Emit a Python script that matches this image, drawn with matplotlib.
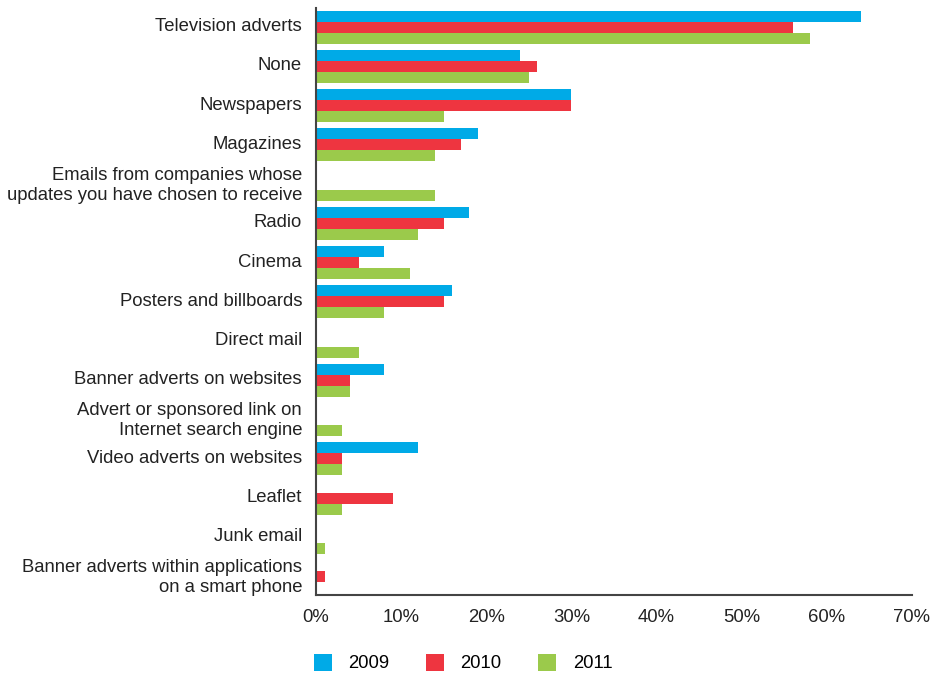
import numpy as np
import matplotlib.pyplot as plt
import matplotlib.transforms as mtransforms
from matplotlib.patches import Patch

plt.rcParams['font.family'] = ['Liberation Sans', 'DejaVu Sans']

categories = ["Television adverts", "None", "Newspapers", "Magazines",
              "Emails from companies whose\nupdates you have chosen to receive",
              "Radio", "Cinema", "Posters and billboards", "Direct mail",
              "Banner adverts on websites",
              "Advert or sponsored link on\nInternet search engine",
              "Video adverts on websites", "Leaflet", "Junk email",
              "Banner adverts within applications\non a smart phone"]
years = ["2009", "2010", "2011"]
v2009 = [64, 24, 30, 19, 0, 18, 8, 16, 0, 8, 0, 12, 0, 0, 0]
v2010 = [56, 26, 30, 17, 0, 15, 5, 15, 0, 4, 0, 3, 9, 0, 1]
v2011 = [58, 25, 15, 14, 14, 12, 11, 8, 5, 4, 3, 3, 3, 1, 0]
colors = ["#00aae7", "#ee3540", "#9bca4b"]

fig = plt.figure(figsize=(9.42, 6.74), dpi=100)
ax = fig.add_axes([316/942, 1-595/674, (912-316)/942, (595-8)/674])

y = np.arange(len(categories))
h = 0.28
for k, vals in enumerate([v2009, v2010, v2011]):
    ax.barh(y + (k-1)*h, vals, height=h, color=colors[k], linewidth=0)

ax.set_ylim(len(categories) - 0.53, -0.49)
ax.set_xlim(0, 70)
ax.set_xticks(np.arange(0, 71, 10))
ax.set_xticklabels([f"{t}%" for t in range(0, 71, 10)])
ax.set_yticks(y)
ax.set_yticklabels(categories, ha='right', linespacing=1.25)
ax.tick_params(axis='both', length=0, labelsize=13.3, colors="#222222")
ax.tick_params(axis='y', pad=10)
ax.tick_params(axis='x', pad=10)
# nudge y labels up a little, like the original
shift = mtransforms.ScaledTranslation(0, 2.5/100, fig.dpi_scale_trans)
for lab in ax.get_yticklabels():
    lab.set_transform(lab.get_transform() + shift)
for s in ['top', 'right']:
    ax.spines[s].set_visible(False)
for s in ['left', 'bottom']:
    ax.spines[s].set_color("#444444")
    ax.spines[s].set_linewidth(1.5)

handles = [Patch(facecolor=c, edgecolor='none') for c in colors]
fig.legend(handles, years, loc='center left', bbox_to_anchor=(314/942, 1-663/674),
           ncol=3, frameon=False, fontsize=13.3, handlelength=0.95, handleheight=1.05,
           handletextpad=0.9, columnspacing=2.0, borderpad=0, borderaxespad=0)

fig.savefig("out.png", dpi=100)
